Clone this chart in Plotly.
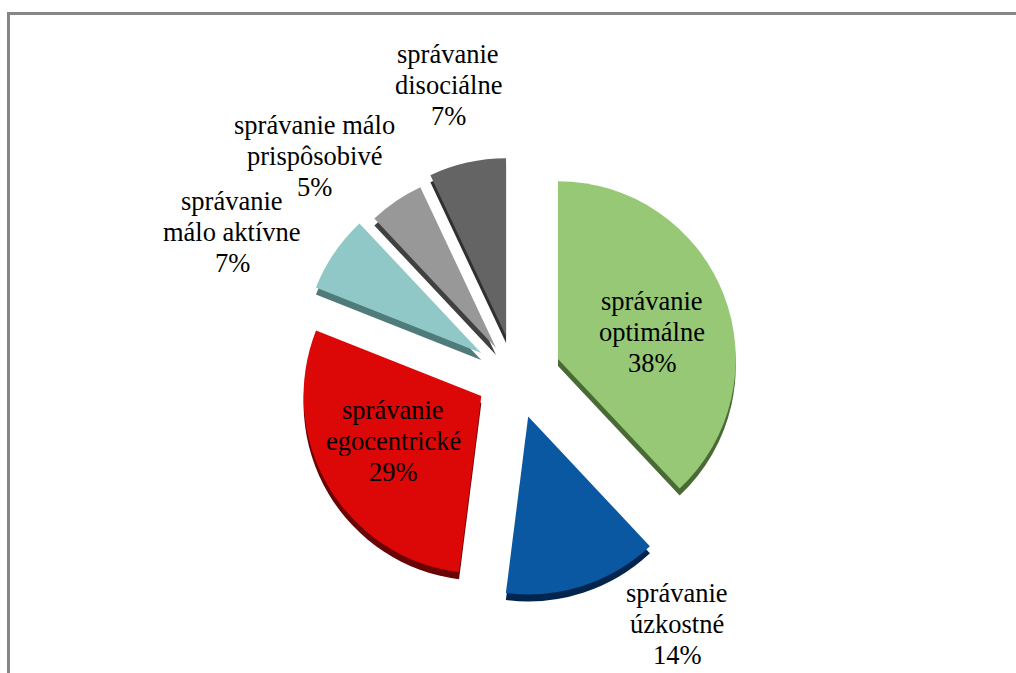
import plotly.graph_objects as go

W, H = 1016, 673

categories = ["správanie optimálne", "správanie úzkostné", "správanie egocentrické",
              "správanie málo aktívne", "správanie málo prispôsobivé", "správanie disociálne"]
values = [38, 14, 29, 7, 5, 7]
pulls = [0.26, 0.24, 0.22, 0.23, 0.19, 0.23]
face_colors = ["#96C876", "#0A58A2", "#DC0707", "#8FC8C6", "#989898", "#646464"]
side_colors = ["#4A6A35", "#02254D", "#6A0404", "#4F7B7B", "#404040", "#303030"]

label_lines = [
    ["správanie", "optimálne", "38%"],
    ["správanie", "úzkostné", "14%"],
    ["správanie", "egocentrické", "29%"],
    ["správanie", "málo aktívne", "7%"],
    ["správanie málo", "prispôsobivé", "5%"],
    ["správanie", "disociálne", "7%"],
]
label_x = [652, 677, 393, 232, 314, 448]
label_y = [301, 593, 410, 201, 125, 54]
LINE_STEP = 31
FONT_SIZE = 26.5

CX, CY, HALF = 515, 376, 224
DEPTH = 7


def pie(colors, dy, dx=0):
    return go.Pie(
        labels=categories, values=values, pull=pulls, sort=False, rotation=0,
        direction="clockwise", textinfo="none", hoverinfo="label+percent",
        showlegend=False,
        marker=dict(colors=colors, line=dict(width=0)),
        domain=dict(
            x=[(CX + dx - HALF) / W, (CX + dx + HALF) / W],
            y=[1 - (CY + dy + HALF) / H, 1 - (CY + dy - HALF) / H],
        ),
    )


fig = go.Figure([pie(side_colors, DEPTH), pie(face_colors, 0)])

for lines, x, y in zip(label_lines, label_x, label_y):
    for i, line in enumerate(lines):
        fig.add_annotation(
            x=x / W, y=1 - (y + i * LINE_STEP) / H, xref="paper", yref="paper",
            text=line, showarrow=False, xanchor="center", yanchor="middle",
            font=dict(family="Liberation Serif", size=FONT_SIZE, color="#000000"),
        )

GRAY = "#868686"
fig.add_shape(type="rect", xref="paper", yref="paper", x0=7 / W, x1=1, y0=1 - 15 / H, y1=1 - 12 / H,
              fillcolor=GRAY, line_width=0)
fig.add_shape(type="rect", xref="paper", yref="paper", x0=7 / W, x1=10 / W, y0=0, y1=1 - 12 / H,
              fillcolor=GRAY, line_width=0)

fig.update_layout(
    width=W, height=H, margin=dict(l=0, r=0, t=0, b=0),
    paper_bgcolor="white", plot_bgcolor="white",
)
fig.write_html("out.html", config={"displayModeBar": False},
               post_script="document.body.style.margin='0';document.documentElement.style.overflow='hidden';")
